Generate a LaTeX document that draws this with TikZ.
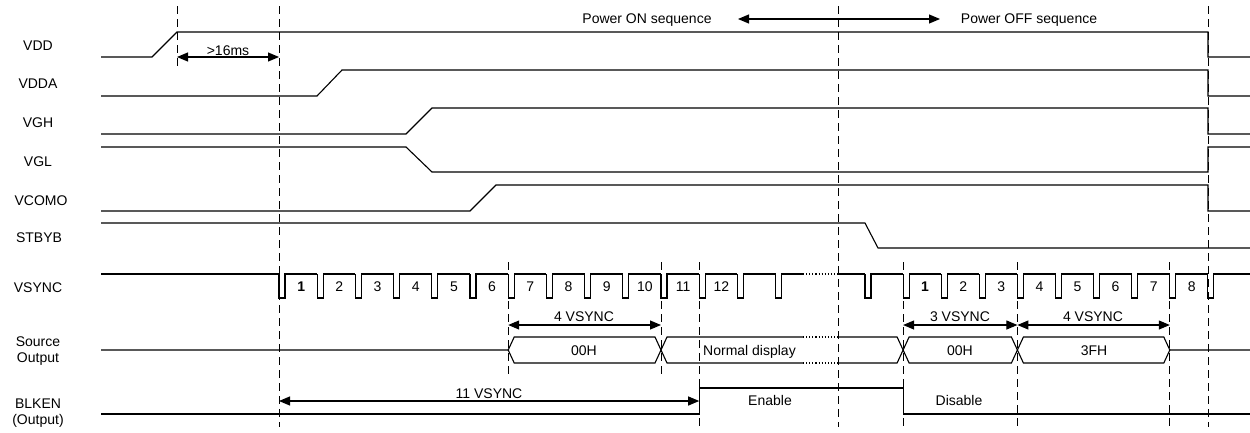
\documentclass[tikz,border=0pt]{standalone}
\usepackage{fontspec}
\setmainfont{Liberation Sans}
\usetikzlibrary{arrows.meta}

\tikzset{
  sig/.style={line width=1.1pt},
  guide/.style={line width=0.9pt,dash pattern=on 8pt off 5pt},
  dimline/.style={line width=1.1pt,{Triangle[length=11pt,width=9pt]}-{Triangle[length=11pt,width=9pt]}},
  signame/.style={font=\fontsize{14}{16}\selectfont,inner sep=0pt},
  lbl/.style={font=\fontsize{14}{16}\selectfont,inner sep=0pt,anchor=base},
}

\begin{document}
\begin{tikzpicture}[x=1pt,y=-1pt]
  \useasboundingbox (0,0) rectangle (1250,432);

  % signal names
  \node[signame,anchor=base] (nvdd) at (38,50) {VDD};
  \node[signame,anchor=base] (nvdda) at (38,88) {VDDA};
  \node[signame,anchor=base] (nvgh) at (38,127) {VGH};
  \node[signame,anchor=base] (nvgl) at (38,166) {VGL};
  \node[signame,anchor=base] (nvcom) at (41,205) {VCOMO};
  \node[signame,anchor=base] (nstby) at (39,242) {STBYB};
  \node[signame,anchor=base] (nvsync) at (38,292) {VSYNC};
  \node[signame,align=center] (nsrc) at (38,351) {Source\\Output};
  \node[signame,align=center] (nblk) at (38,413) {BLKEN\\(Output)};

  % guide lines
  \draw[guide] (177,6) -- (177,70);
  \foreach \x in {279,838,1208}
    \draw[guide] (\x,6) -- (\x,427);
  \foreach \x in {508.2,661}
    \draw[guide] (\x,262) -- (\x,378);
  \foreach \x in {699.2,903.1,1017.4,1169.8}
    \draw[guide] (\x,262) -- (\x,427);

  % supplies
  \draw[sig] (101,57) -- (152,57) -- (177,32) -- (1208,32) -- (1208,57) -- (1250,57);
  \draw[sig] (101,96) -- (317,96) -- (342,70) -- (1208,70) -- (1208,96) -- (1250,96);
  \draw[sig] (101,134) -- (406,134) -- (432,108) -- (1208,108) -- (1208,134) -- (1250,134);
  \draw[sig] (101,147) -- (406,147) -- (432,172) -- (1208,172) -- (1208,147) -- (1250,147);
  \draw[sig] (101,211) -- (470,211) -- (496,185) -- (1208,185) -- (1208,211) -- (1250,211);
  \draw[sig] (101,223) -- (865,223) -- (878,248) -- (1250,248);

  % VSYNC, power on
  \draw[sig] (101,274) -- (279,274);
  \foreach \k in {0,...,12}
    \draw[sig] ({279+38.2*\k},274) |- ++(6,24) |- ++(32.2,-24);
  \draw[sig] (775.6,274) |- ++(6,24) |- (803,274);
  \draw[sig,dotted] (803,274) -- (838,274);
  \draw[sig] (838,274) -- (865,274);
  \node[lbl] (va1) at (301.2,291) {\textbf{1}};
  \foreach \n in {2,...,12}
    \node[lbl] (va\n) at ({279+38.2*(\n-1)+22.1},291) {\n};

  % VSYNC, power off
  \foreach \k in {0,...,8}
    \draw[sig] ({865+38.1*\k},274) |- ++(6,24) |- ++(32.1,-24);
  \draw[sig] (1207.9,274) |- ++(6,24) |- (1250,274);
  \node[lbl] (vb1) at (925.1,291) {\textbf{1}};
  \foreach \n in {2,...,8}
    \node[lbl] (vb\n) at ({865+38.1*\n+22},291) {\n};

  % source output
  \draw[sig] (101,350) -- (508.2,350) -- (514.2,337) -- (655,337) -- (667,363) -- (803,363);
  \draw[sig] (508.2,350) -- (514.2,363) -- (655,363) -- (667,337) -- (803,337);
  \draw[sig,dotted] (803,337) -- (838,337) (803,363) -- (838,363);
  \draw[sig] (838,337) -- (897.1,337) -- (909.1,363) -- (1011.4,363) -- (1023.4,337)
    -- (1163.8,337) -- (1169.8,350) -- (1250,350);
  \draw[sig] (838,363) -- (897.1,363) -- (909.1,337) -- (1011.4,337) -- (1023.4,363)
    -- (1163.8,363) -- (1169.8,350);
  \node[lbl] (s00a) at (584,355) {00H};
  \node[lbl,anchor=base west] (snorm) at (703,355) {Normal display};
  \node[lbl] (s00b) at (960,355) {00H};
  \node[lbl] (s3f) at (1094,355) {3FH};

  % BLKEN
  \draw[sig] (101,414) -- (699.2,414) -- (699.2,388) -- (903.1,388) -- (903.1,414) -- (1250,414);
  \node[lbl] (ben) at (770,405) {Enable};
  \node[lbl] (bdis) at (959,405) {Disable};

  % timings
  \coordinate (a16) at (177,57);
  \coordinate (b16) at (279,57);
  \draw[dimline] (a16) -- (b16);
  \node[lbl] (l16) at (228,55) {>16ms};

  \coordinate (pon) at (738,19);
  \coordinate (poff) at (940,19);
  \draw[dimline] (pon) -- (poff);
  \node[lbl] (lon) at (647,23) {Power ON sequence};
  \node[lbl] (loff) at (1029,23) {Power OFF sequence};

  \coordinate (s1a) at (508.2,325);
  \coordinate (s1b) at (661,325);
  \draw[dimline] (s1a) -- (s1b);
  \node[lbl] (l4a) at (584,321) {4 VSYNC};

  \coordinate (s2a) at (903.1,325);
  \coordinate (s2b) at (1017.4,325);
  \coordinate (s2c) at (1169.8,325);
  \draw[dimline] (s2a) -- (s2b);
  \draw[dimline] (s2b) -- (s2c);
  \node[lbl] (l3) at (960,321) {3 VSYNC};
  \node[lbl] (l4b) at (1093,321) {4 VSYNC};

  \coordinate (s3a) at (279,401);
  \coordinate (s3b) at (699.2,401);
  \draw[dimline] (s3a) -- (s3b);
  \node[lbl] (l11) at (489,398) {11 VSYNC};
\end{tikzpicture}
\end{document}
